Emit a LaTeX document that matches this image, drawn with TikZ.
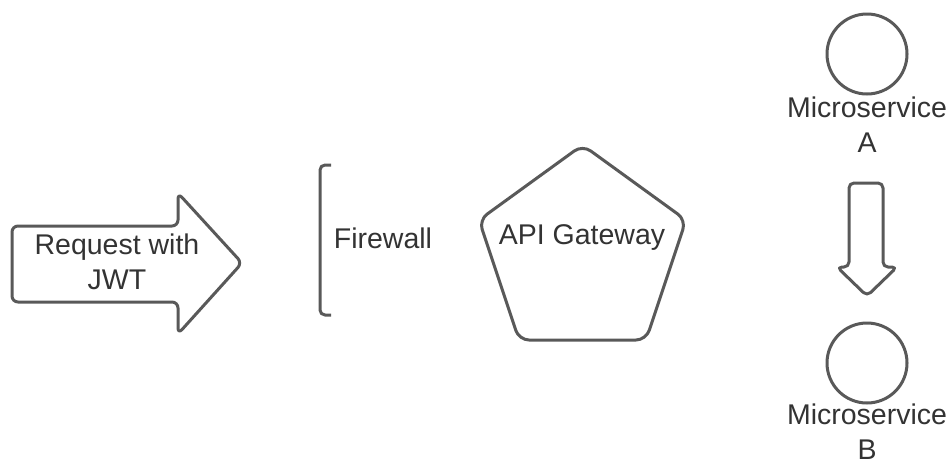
\documentclass[tikz,border=0pt]{standalone}
\usepackage{fontspec}
\setmainfont{Liberation Sans}
\begin{document}
\begin{tikzpicture}[x=1pt,y=-1pt,
  outline/.style={draw=shapegray,line width=3pt,line join=round,rounded corners=6pt},
  lbl/.style={text=textgray,font=\fontsize{28.5}{35}\selectfont,align=center,inner sep=0pt}]
\definecolor{shapegray}{HTML}{595959}
\definecolor{textgray}{HTML}{333333}
\useasboundingbox (0,0) rectangle (950,464);
% request arrow
\draw[outline] (12,226) -- (178,226) -- (178,193) -- (242,263) -- (178,334) -- (178,302) -- (12,302) -- cycle;
\node[lbl] (req) at (117,262) {Request with\\JWT};
% firewall bracket
\draw[outline,rounded corners=5pt] (331,165) -- (320,165) -- (320,315) -- (331,315);
\node[lbl] (fw) at (383,238) {Firewall};
% API gateway pentagon
\draw[outline,rounded corners=10pt] (582.5,145) -- (686,220) -- (646,340) -- (519,340) -- (479,220) -- cycle;
\node[lbl] (api) at (582,238) {API Gateway};
% microservice A
\draw[draw=shapegray,line width=3pt] (867,54) circle (40);
\node[lbl] (msa) at (867,125) {Microservice\\A};
% down arrow
\draw[outline,rounded corners=5pt] (849,183) -- (883,183) -- (883,267) -- (897,267) -- (867,296) -- (837,267) -- (849,267) -- cycle;
% microservice B
\draw[draw=shapegray,line width=3pt] (867,363) circle (40);
\node[lbl] (msb) at (867,432) {Microservice\\B};
\end{tikzpicture}
\end{document}
